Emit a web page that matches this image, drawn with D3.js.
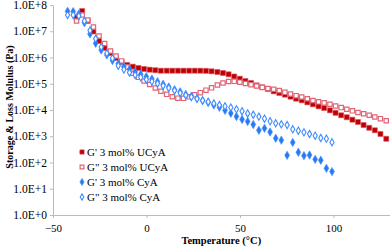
<!DOCTYPE html>
<html>
<head>
<meta charset="utf-8">
<script src="https://cdn.jsdelivr.net/npm/d3@7"></script>
<style>
  body { margin: 0; background: #fff; }
  .axis path, .axis line { stroke: #b3bccb; }
</style>
</head>
<body>
<div id="visualization"></div>
<script>
// temperatures (°C)
var tempUCyA = [-37.4, -34.4, -31.4, -28.4, -25.4, -22.4, -19.3, -16.3, -13.3, -10.3,
  -7.3, -4.3, -1.3, 1.7, 4.7, 7.7, 10.8, 13.8, 16.8, 19.8,
  22.8, 25.8, 28.8, 31.8, 34.8, 37.9, 40.9, 43.9, 46.9, 49.9,
  52.9, 55.9, 58.9, 61.9, 64.9, 68.0, 71.0, 74.0, 77.0, 80.0,
  83.0, 86.0, 89.0, 92.0, 95.0, 98.1, 101.1, 104.1, 107.1, 110.1,
  113.1, 116.1, 119.1, 122.1, 125.1, 128.2];
var tempCyA = [-42.2, -39.2, -36.2, -33.2, -30.2, -27.2, -24.2, -21.2, -18.2, -15.1,
  -12.1, -9.1, -6.1, -3.1, -0.1, 2.9, 5.9, 8.9, 11.9, 15.0,
  18.0, 21.0, 24.0, 27.0, 30.0, 33.0, 36.0, 39.0, 42.0, 45.1,
  48.1, 51.1, 54.1, 57.1, 60.1, 63.1, 66.1, 69.1, 72.1, 75.2,
  78.2, 81.2, 84.2, 87.2, 90.2, 93.2, 96.2, 99.2];

// moduli (Pa)
var gStorageUCyA = [3.49e7, 5.9e7, 2.45e7, 9.8e6, 4.25e6, 2.3e6, 1.48e6, 9.6e5, 6.7e5, 5.2e5,
  4.47e5, 4.0e5, 3.65e5, 3.43e5, 3.28e5, 3.14e5, 3.14e5, 3.14e5, 3.14e5, 3.14e5,
  3.14e5, 3.14e5, 3.14e5, 3.1e5, 2.98e5, 2.8e5, 2.57e5, 2.29e5, 1.89e5, 1.56e5,
  1.27e5, 1.07e5, 8.7e4, 7.3e4, 6.3e4, 5.15e4, 4.44e4, 3.83e4, 3.21e4, 2.69e4,
  2.34e4, 1.96e4, 1.65e4, 1.38e4, 1.19e4, 9.7e3, 7.8e3, 6.3e3, 5.3e3, 4.27e3,
  3.49e3, 2.68e3, 2.1e3, 1.69e3, 1.22e3, 8.0e2];
var gLossUCyA = [2.45e7, 4.16e7, 2.68e7, 1.45e7, 6.6e6, 3.41e6, 1.77e6, 1.14e6, 7.4e5, 4.35e5,
  2.5e5, 1.76e5, 1.27e5, 9.4e4, 6.9e4, 5.2e4, 3.96e4, 3.21e4, 2.82e4, 2.78e4,
  3.18e4, 3.79e4, 4.56e4, 5.68e4, 7.0e4, 8.96e4, 1.07e5, 1.22e5, 1.24e5, 1.15e5,
  1.02e5, 9.2e4, 8.2e4, 7.3e4, 6.6e4, 6.15e4, 5.53e4, 4.72e4, 4.07e4, 3.51e4,
  3.13e4, 2.69e4, 2.3e4, 2.05e4, 1.88e4, 1.65e4, 1.42e4, 1.24e4, 1.07e4, 9.3e3,
  8.0e3, 7.2e3, 6.3e3, 5.4e3, 4.67e3, 3.88e3];
var gStorageCyA = [5.75e7, 5.6e7, 4.54e7, 2.12e7, 7.9e6, 3.47e6, 1.93e6, 1.25e6, 7.7e5, 5.8e5,
  4.47e5, 3.55e5, 2.8e5, 2.29e5, 1.86e5, 1.52e5, 1.2e5, 9.6e4, 7.5e4, 5.9e4,
  4.93e4, 3.89e4, 3.36e4, 2.79e4, 2.3e4, 1.93e4, 1.55e4, 1.27e4, 9.7e3, 7.5e3,
  5.65e3, 4.35e3, 3.65e3, 2.8e3, 1.69e3, 2.01e3, 1.45e3, 8.4e2, 7.1e2, 1.88e2,
  5.8e2, 2.45e2, 1.82e2, 1.93e2, 1.32e2, 1.22e2, 6.0e1, 4.5e1];
var gLossCyA = [4.16e7, 4.16e7, 3.81e7, 2.45e7, 1.07e7, 5.2e6, 2.51e6, 1.45e6, 9.3e5, 4.87e5,
  3.49e5, 2.68e5, 2.15e5, 1.76e5, 1.45e5, 1.22e5, 1.02e5, 8.4e4, 6.9e4, 5.53e4,
  4.44e4, 3.66e4, 3.13e4, 2.69e4, 2.3e4, 2.05e4, 1.77e4, 1.55e4, 1.38e4, 1.24e4,
  1.06e4, 9.0e3, 7.4e3, 6.6e3, 5.6e3, 4.67e3, 3.71e3, 3.11e3, 2.85e3, 2.68e3,
  1.84e3, 1.63e3, 1.41e3, 1.22e3, 1.05e3, 8.6e2, 8.1e2, 5.9e2];

var seriesNames = ["G' 3 mol% UCyA", "G\" 3 mol% UCyA", "G' 3 mol% CyA", "G\" 3 mol% CyA"];
var xTicks = [-50, 0, 50, 100];
var yTicks = [1e0, 1e1, 1e2, 1e3, 1e4, 1e5, 1e6, 1e7, 1e8];

render();

function render() {
  var div = d3.select('#visualization');
  var width = 392, height = 250;
  var margin = {top: 5, right: 2.4, bottom: 35, left: 53};
  var serif = "'Liberation Serif', 'Times New Roman', serif";

  var x = d3.scaleLinear()
            .domain([-50, 130])
            .range([margin.left, width - margin.right]);

  var y = d3.scaleLog()
            .domain([1, 1e8])
            .range([height - margin.bottom, margin.top]);

  var svg = div.append("svg")
               .attr("width", width)
               .attr("height", height)
               .style("display", "block")
               .attr("font-family", serif);

  var xAxis = d3.axisBottom(x)
                .tickValues(xTicks)
                .tickSize(3)
                .tickSizeOuter(0)
                .tickPadding(6)
                .tickFormat(d3.format("d"));

  var yAxis = d3.axisLeft(y)
                .tickValues(yTicks)
                .tickSize(3)
                .tickSizeOuter(0)
                .tickPadding(3)
                .tickFormat(function(d) { return "1.0E+" + Math.round(Math.log10(d)); });

  svg.append("g")
     .attr("class", "x axis")
     .attr("transform", "translate(0," + (height - margin.bottom) + ")")
     .call(xAxis)
     .attr("font-family", serif)
     .attr("font-size", 11);

  svg.append("g")
     .attr("class", "y axis")
     .attr("transform", "translate(" + margin.left + ",0)")
     .call(yAxis)
     .attr("font-family", serif)
     .attr("font-size", 11.5);

  var styles = [
    {type: d3.symbolSquare, size: 25, fill: "#c00000", stroke: "#d8505e", sw: 0.6},
    {type: d3.symbolSquare, size: 19, fill: "#fff", stroke: "#df6574", sw: 1.2},
    {type: d3.symbolDiamond, size: 20, fill: "#2479f5", stroke: "#4a90ff", sw: 0.7},
    {type: d3.symbolDiamond, size: 15, fill: "#fff", stroke: "#3f8cff", sw: 1.1}
  ];

  var series = [
    {t: tempUCyA, v: gStorageUCyA},
    {t: tempUCyA, v: gLossUCyA},
    {t: tempCyA, v: gStorageCyA},
    {t: tempCyA, v: gLossCyA}
  ];

  series.forEach(function(s, i) {
    var st = styles[i];
    var pts = s.t.map(function(t, j) { return {t: t, v: s.v[j]}; });
    svg.append("g")
       .selectAll("path")
       .data(pts)
       .enter().append("path")
       .attr("d", d3.symbol().type(st.type).size(st.size))
       .attr("transform", function(d) { return "translate(" + x(d.t) + "," + y(d.v) + ")"; })
       .attr("fill", st.fill)
       .attr("stroke", st.stroke)
       .attr("stroke-width", st.sw);
  });

  // Legend
  var legend = svg.append("g").attr("font-size", 11);
  seriesNames.forEach(function(name, i) {
    var st = styles[i];
    var ly = 152 + i * 15;
    legend.append("path")
          .attr("d", d3.symbol().type(st.type).size(st.size * 0.75))
          .attr("transform", "translate(82," + ly + ")")
          .attr("fill", st.fill)
          .attr("stroke", st.stroke)
          .attr("stroke-width", st.sw);
    legend.append("text")
          .attr("x", 87)
          .attr("y", ly)
          .attr("dy", "0.35em")
          .text(name);
  });

  // X-Axis label
  svg.append('text')
     .attr('x', (margin.left + width - margin.right) / 2)
     .attr('y', 244)
     .attr('text-anchor', 'middle')
     .attr('font-weight', 'bold')
     .attr('font-size', 10.5)
     .text('Temperature (°C)');

  // Y-Axis label
  svg.append('text')
     .attr('transform', 'translate(13,107) rotate(-90)')
     .attr('text-anchor', 'middle')
     .attr('font-weight', 'bold')
     .attr('font-size', 10)
     .text('Storage & Loss Molulus (Pa)');
}
</script>
</body>
</html>
